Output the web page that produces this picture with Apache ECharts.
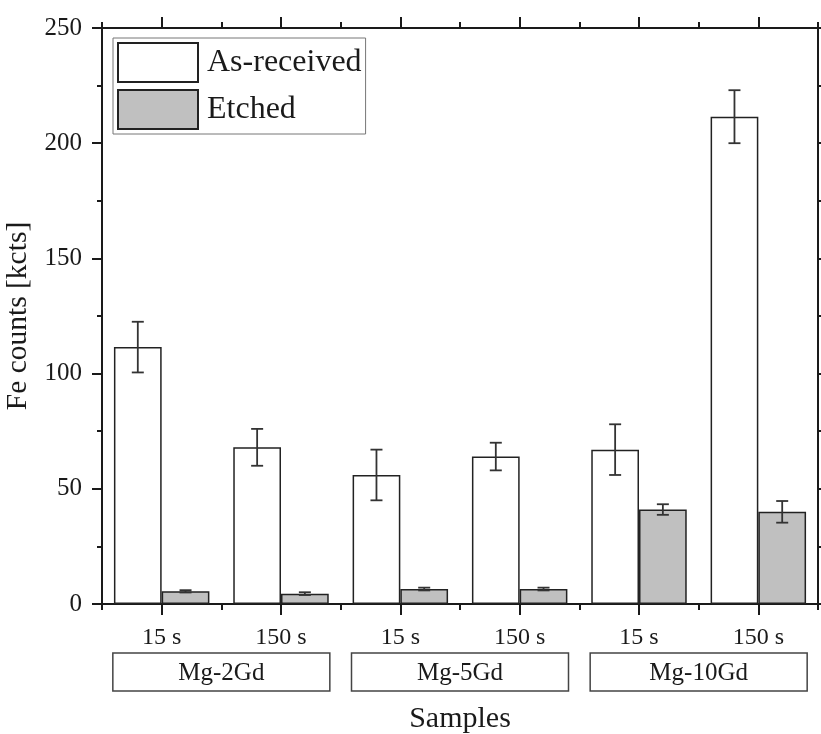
<!DOCTYPE html>
<html>
<head>
<meta charset="utf-8">
<script src="https://cdn.jsdelivr.net/npm/echarts@6/dist/echarts.min.js"></script>
<style>
  html, body { margin: 0; padding: 0; background: #ffffff; }
  #chart { width: 821px; height: 734px; }
</style>
</head>
<body>
<div id="chart"></div>
<script>
// 数据
const categories = ['15 s', '150 s', '15 s', '150 s', '15 s', '150 s']
const groups = ['Mg-2Gd', 'Mg-5Gd', 'Mg-10Gd']
const asReceived = [111.5, 68, 56, 64, 67, 211.5]
const asReceivedErr = [11, 8, 11, 6, 11, 11.5]
const etched = [5.5, 4.5, 6.5, 6.5, 41, 40]
const etchedErr = [0.5, 0.6, 0.6, 0.6, 2.3, 4.7]

const font = 'Liberation Serif'
const ink = '#1a1a1a'

// 误差棒数据 [index, low, high]
const errData = (vals, errs) => vals.map((v, i) => [i, v - errs[i], v + errs[i]])

// 误差棒绘制，side=-1 左柱，side=1 右柱
const errRender = (side) => (params, api) => {
  const i = api.value(0)
  const band = api.size([1, 0])[0]
  const dx = side * band * 0.2
  const hi = api.coord([i, api.value(2)])
  const lo = api.coord([i, api.value(1)])
  const x = hi[0] + dx
  const cap = 6
  const style = { stroke: '#333', lineWidth: 1.8 }
  return {
    type: 'group',
    children: [
      { type: 'line', shape: { x1: x, y1: hi[1], x2: x, y2: lo[1] }, style },
      { type: 'line', shape: { x1: x - cap, y1: hi[1], x2: x + cap, y2: hi[1] }, style },
      { type: 'line', shape: { x1: x - cap, y1: lo[1], x2: x + cap, y2: lo[1] }, style }
    ]
  }
}

const lineStyle = { color: ink, width: 2 }

const myChart = echarts.init(document.getElementById('chart'))
myChart.setOption({
  animation: false,
  textStyle: { fontFamily: font },
  grid: { left: 102, right: 3, top: 28, bottom: 130, outerBoundsMode: 'none', containLabel: false },
  legend: {
    orient: 'vertical',
    left: 113,
    top: 38,
    data: ['As-received', 'Etched'],
    icon: 'rect',
    itemWidth: 80,
    itemHeight: 39,
    itemGap: 6,
    padding: [4, 4, 4, 4],
    borderColor: '#777',
    borderWidth: 1,
    textStyle: { fontFamily: font, fontSize: 32, color: ink, padding: [0, 0, 0, 4] }
  },
  xAxis: [
    { // 底部主刻度 + 标签
      type: 'category', position: 'bottom', data: categories,
      axisLine: { show: true, lineStyle },
      axisTick: { show: true, interval: 0, alignWithLabel: true, length: 11, lineStyle },
      axisLabel: { fontFamily: font, fontSize: 24, color: ink, margin: 22, interval: 0 }
    },
    { // 底部次刻度
      type: 'category', position: 'bottom', data: categories,
      axisLine: { show: false },
      axisTick: { show: true, interval: 0, length: 6, lineStyle },
      axisLabel: { show: false },
      name: 'Samples', nameLocation: 'middle', nameGap: 100,
      nameTextStyle: { fontFamily: font, fontSize: 30, color: ink }
    },
    { // 顶部主刻度
      type: 'category', position: 'top', data: categories,
      axisLine: { show: true, lineStyle },
      axisTick: { show: true, interval: 0, alignWithLabel: true, length: 11, lineStyle },
      axisLabel: { show: false }
    },
    { // 顶部次刻度
      type: 'category', position: 'top', data: categories,
      axisLine: { show: false },
      axisTick: { show: true, interval: 0, length: 6, lineStyle },
      axisLabel: { show: false }
    },
    { // 分组框
      type: 'category', position: 'bottom', data: groups,
      axisLine: { show: false },
      axisTick: { show: false },
      axisLabel: {
        interval: 0, margin: 49, fontFamily: font, fontSize: 25, color: ink,
        width: 217, height: 38, lineHeight: 40, align: 'center', verticalAlign: 'top',
        borderColor: '#444', borderWidth: 1.5, overflow: 'none'
      }
    }
  ],
  yAxis: [
    {
      type: 'value', position: 'left', min: 0, max: 250, interval: 50,
      name: 'Fe counts [kcts]', nameLocation: 'middle', nameGap: 62,
      nameTextStyle: { fontFamily: font, fontSize: 29.5, color: ink },
      axisLine: { show: true, lineStyle },
      axisTick: { show: true, length: 10, lineStyle },
      minorTick: { show: true, splitNumber: 2, length: 5, lineStyle },
      splitLine: { show: false },
      axisLabel: { fontFamily: font, fontSize: 25, color: ink, margin: 20 }
    },
    {
      type: 'value', position: 'right', min: 0, max: 250, interval: 25,
      axisLine: { show: true, lineStyle },
      axisTick: { show: true, length: 5, lineStyle },
      splitLine: { show: false },
      axisLabel: { show: false }
    }
  ],
  series: [
    {
      name: 'As-received', type: 'bar', data: asReceived, barWidth: '40%', barGap: '0%',
      itemStyle: { color: '#ffffff', borderColor: '#222', borderWidth: 1.5 }
    },
    {
      name: 'Etched', type: 'bar', data: etched, barWidth: '40%', barGap: '0%',
      itemStyle: { color: '#c0c0c0', borderColor: '#222', borderWidth: 1.5 }
    },
    {
      type: 'custom', renderItem: errRender(-1), data: errData(asReceived, asReceivedErr),
      encode: { x: 0, y: [1, 2] }, z: 5
    },
    {
      type: 'custom', renderItem: errRender(1), data: errData(etched, etchedErr),
      encode: { x: 0, y: [1, 2] }, z: 5
    }
  ]
})
</script>
</body>
</html>
